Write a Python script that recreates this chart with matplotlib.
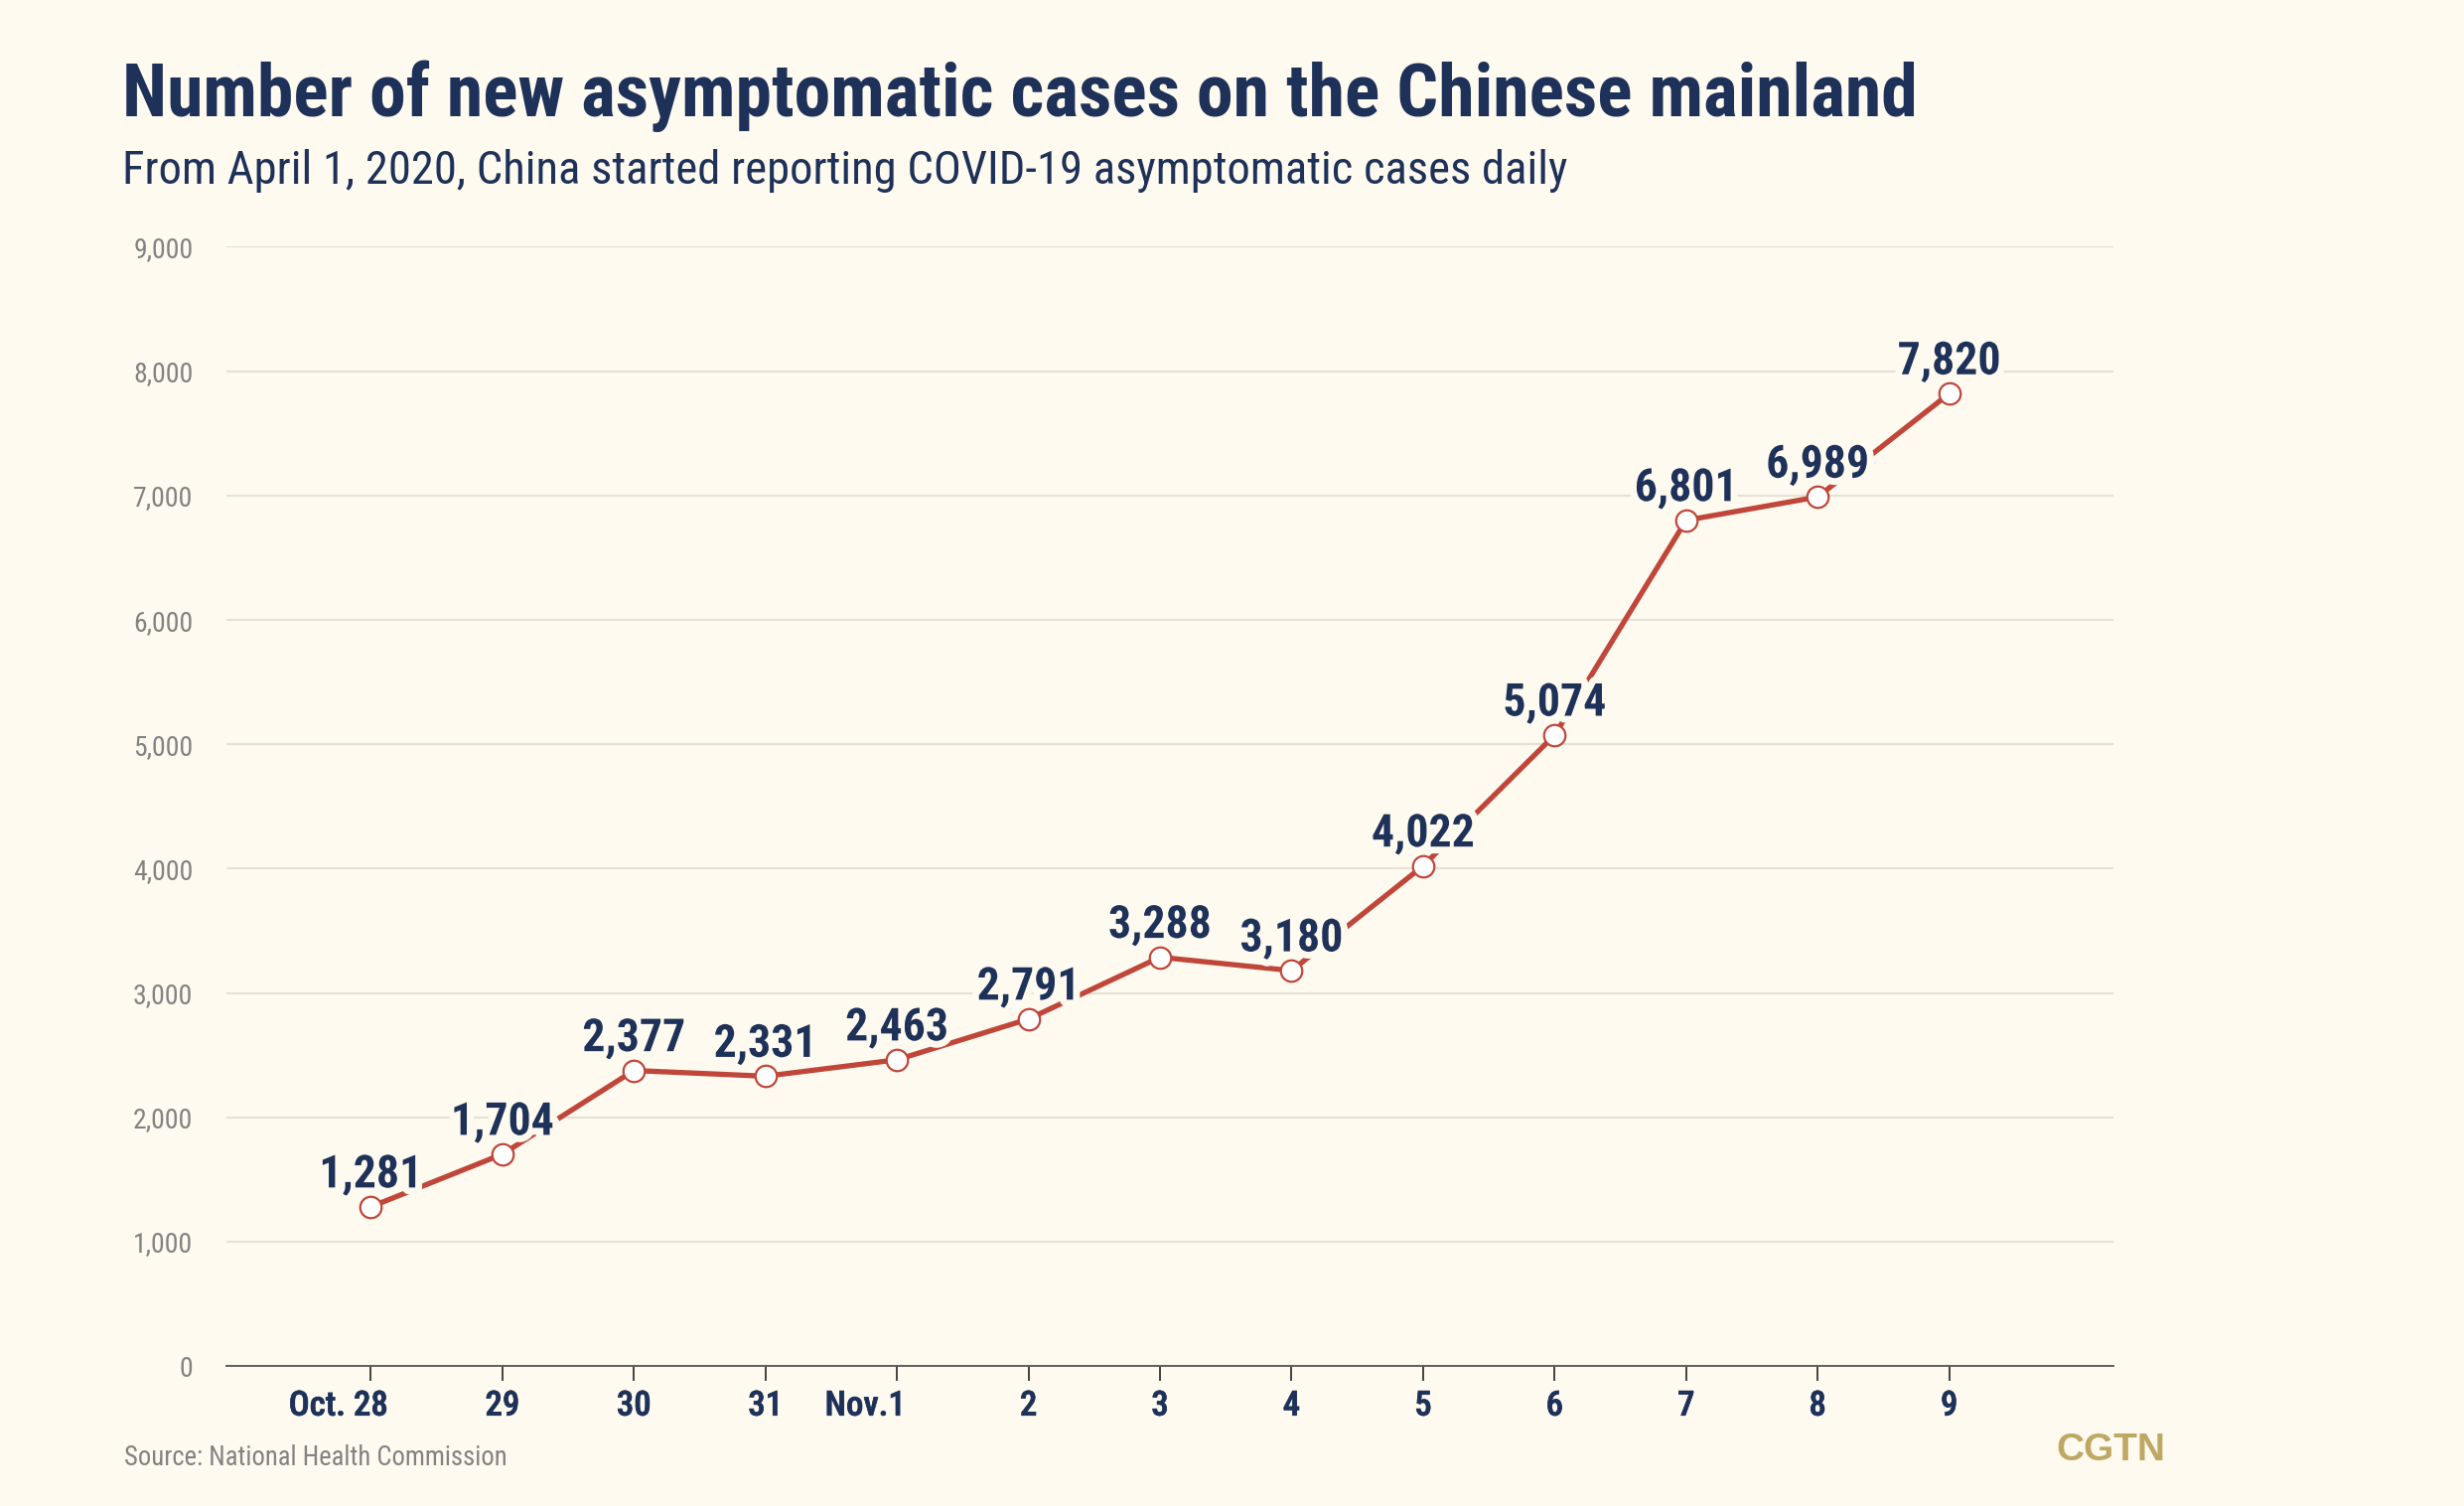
import matplotlib
matplotlib.use("Agg")
import matplotlib.pyplot as plt
import matplotlib.patheffects as pe
import matplotlib.transforms as mtransforms
from matplotlib import font_manager

# ---- data ----
dates = ["Oct. 28", "29", "30", "31", "Nov.1", "2", "3", "4", "5", "6", "7", "8", "9"]
cases = [1281, 1704, 2377, 2331, 2463, 2791, 3288, 3180, 4022, 5074, 6801, 6989, 7820]
yticks = [0, 1000, 2000, 3000, 4000, 5000, 6000, 7000, 8000, 9000]

title = "Number of new asymptomatic cases on the Chinese mainland"
subtitle = "From April 1, 2020, China started reporting COVID-19 asymptomatic cases daily"
source = "Source: National Health Commission"
brand = "CGTN"

BG = "#fefaef"
NAVY = "#1e3159"
RED = "#c0463a"
GRAY = "#828282"
GRID = "#e5e1d6"
GOLD = "#bea864"

# pick a narrow font if one is installed
names = {f.name for f in font_manager.fontManager.ttflist}
FAM = "Roboto"
for cand in ["Roboto Condensed", "Liberation Sans Narrow", "Noto Sans Condensed",
             "DejaVu Sans Condensed", "Open Sans Condensed"]:
    if cand in names:
        FAM = cand
        break
FAMILY = [FAM, "DejaVu Sans"]
plt.rcParams["font.family"] = FAMILY

fig = plt.figure(figsize=(24.81, 15.16), dpi=100, facecolor=BG)
renderer = fig.canvas.get_renderer()


def text_width(text, size, weight="normal"):
    t = fig.text(0, 0, text, fontsize=size, fontweight=weight)
    w = t.get_window_extent(renderer).width
    t.remove()
    return w


def fit(text, target_px, weight="normal", base=30.0):
    return base * target_px / text_width(text, base, weight)


ax = fig.add_axes([0.0918, 0.0929, 0.8578 - 0.0918, 0.8361 - 0.0929])
ax.set_facecolor(BG)

x = list(range(len(dates)))
ax.plot(x, cases, color=RED, lw=3.8, zorder=3, solid_capstyle="round")
ax.plot(x, cases, linestyle="none", marker="o", ms=15.5, mfc="white",
        mec=RED, mew=1.6, zorder=4)

lab_size = fit("7,820", 104, "bold")
halo = [pe.withStroke(linewidth=10, foreground=BG)]
for xi, v in zip(x, cases):
    ax.annotate(f"{v:,}", (xi, v), xytext=(0, 14), textcoords="offset points",
                ha="center", va="baseline", fontsize=lab_size, fontweight="bold",
                color=NAVY, zorder=5, path_effects=halo)

ax.set_xlim(-1.1, 13.25)
ax.set_ylim(0, 9000)
ax.set_yticks(yticks)
ax.set_yticklabels([f"{t:,}" for t in yticks])
ax.set_xticks(x)
ax.set_xticklabels(dates)

ax.grid(axis="y", color=GRID, lw=1.5, zorder=0)
ax.grid(axis="x", visible=False)
for s in ["top", "right", "left"]:
    ax.spines[s].set_visible(False)
ax.spines["bottom"].set_color("#5e5e5e")
ax.spines["bottom"].set_linewidth(1.4)

ax.tick_params(axis="y", length=0, pad=24, labelsize=20, labelcolor=GRAY)
xt_size = fit("Oct. 28", 100, "medium")
ax.tick_params(axis="x", length=11, width=1.3, color="#333333", pad=6,
               labelsize=xt_size, labelcolor=NAVY)
for lab in ax.get_xticklabels():
    lab.set_fontweight("medium")
    lab.set_path_effects([pe.withStroke(linewidth=0.5, foreground=NAVY)])
    txt = lab.get_text()
    day = txt.replace(".", " ").split()[-1]
    if day != txt:
        # keep the day number centred under its tick
        shift = text_width(day, xt_size, "medium") / 2.0
        lab.set_horizontalalignment("right")
        lab.set_transform(lab.get_transform() + mtransforms.ScaledTranslation(
            shift / fig.dpi, 0, fig.dpi_scale_trans))

fig.text(0.0497, 0.9228, title, fontsize=fit(title, 1808, "bold"), fontweight="bold",
         color=NAVY, ha="left", va="baseline")
fig.text(0.0497, 0.8779, subtitle, fontsize=fit(subtitle, 1456), color=NAVY,
         ha="left", va="baseline")
fig.text(0.0504, 0.0271, source, fontsize=fit(source, 386), color=GRAY,
         ha="left", va="baseline")
fig.text(0.8788, 0.0303, brand, fontsize=28, fontweight="bold", color=GOLD,
         ha="right", va="baseline", family=["Liberation Sans", "DejaVu Sans"])

fig.savefig("out.png", dpi=100, facecolor=BG)
